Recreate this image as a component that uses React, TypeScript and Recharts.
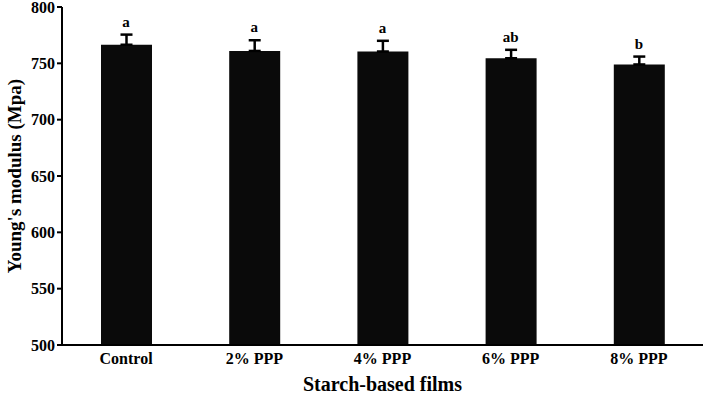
import { Bar, ComposedChart, ErrorBar, LabelList, Line, XAxis, YAxis } from "recharts";

const films = ["Control", "2% PPP", "4% PPP", "6% PPP", "8% PPP"];
const modulus = [766.5, 761, 760.5, 754.5, 749];
const errHigh = [9, 9.5, 9.5, 7.5, 7];
const letters = ["a", "a", "a", "ab", "b"];
const yTicks = [500, 550, 600, 650, 700, 750, 800];

const data = films.map((film, i) => ({
  film,
  modulus: modulus[i],
  err: [0, errHigh[i]],
  top: modulus[i] + errHigh[i],
  letter: letters[i],
}));

const serif = "'Liberation Serif', 'Times New Roman', serif";

export default function App() {
  return (
    <div style={{ position: "absolute", left: 0, top: 0, background: "#fff" }}>
      <ComposedChart
        width={709}
        height={400}
        data={data}
        margin={{ top: 7, right: 6, left: 10, bottom: 25 }}
      >
        <XAxis
          dataKey="film"
          stroke="#000"
          strokeWidth={2}
          tickLine={false}
          height={30}
          tick={{ fill: "#000", fontSize: 16, fontWeight: "bold", fontFamily: serif }}
          label={{
            value: "Starch-based films",
            position: "insideBottom",
            offset: -16,
            fill: "#000",
            fontSize: 20,
            fontWeight: "bold",
            fontFamily: serif,
          }}
        />
        <XAxis xAxisId="top" dataKey="film" orientation="top" height={0} tick={false} tickLine={false} stroke="#000" strokeWidth={2} />
        <YAxis
          domain={[500, 800]}
          ticks={yTicks}
          width={52}
          stroke="#000"
          strokeWidth={2}
          tickSize={5}
          interval={0}
          tick={{ fill: "#000", fontSize: 16, fontWeight: "bold", fontFamily: serif }}
          label={{
            value: "Young's modulus (Mpa)",
            angle: -90,
            position: "insideLeft",
            offset: 4,
            style: { textAnchor: "middle" },
            fill: "#000",
            fontSize: 19,
            fontWeight: "bold",
            fontFamily: serif,
          }}
        />
        <YAxis yAxisId="right" orientation="right" domain={[500, 800]} width={0} tick={false} tickLine={false} stroke="#000" strokeWidth={2} />
        <Bar dataKey="modulus" fill="#0a0a0a" barSize={51} isAnimationActive={false}>
          <ErrorBar dataKey="err" width={6} stroke="#000" strokeWidth={2.5} direction="y" isAnimationActive={false} />
        </Bar>
        <Line dataKey="top" stroke="none" dot={false} activeDot={false} isAnimationActive={false} legendType="none">
          <LabelList
            dataKey="letter"
            position="top"
            offset={8}
            fill="#000"
            fontSize={15}
            fontWeight="bold"
            fontFamily={serif}
          />
        </Line>
      </ComposedChart>
    </div>
  );
}
